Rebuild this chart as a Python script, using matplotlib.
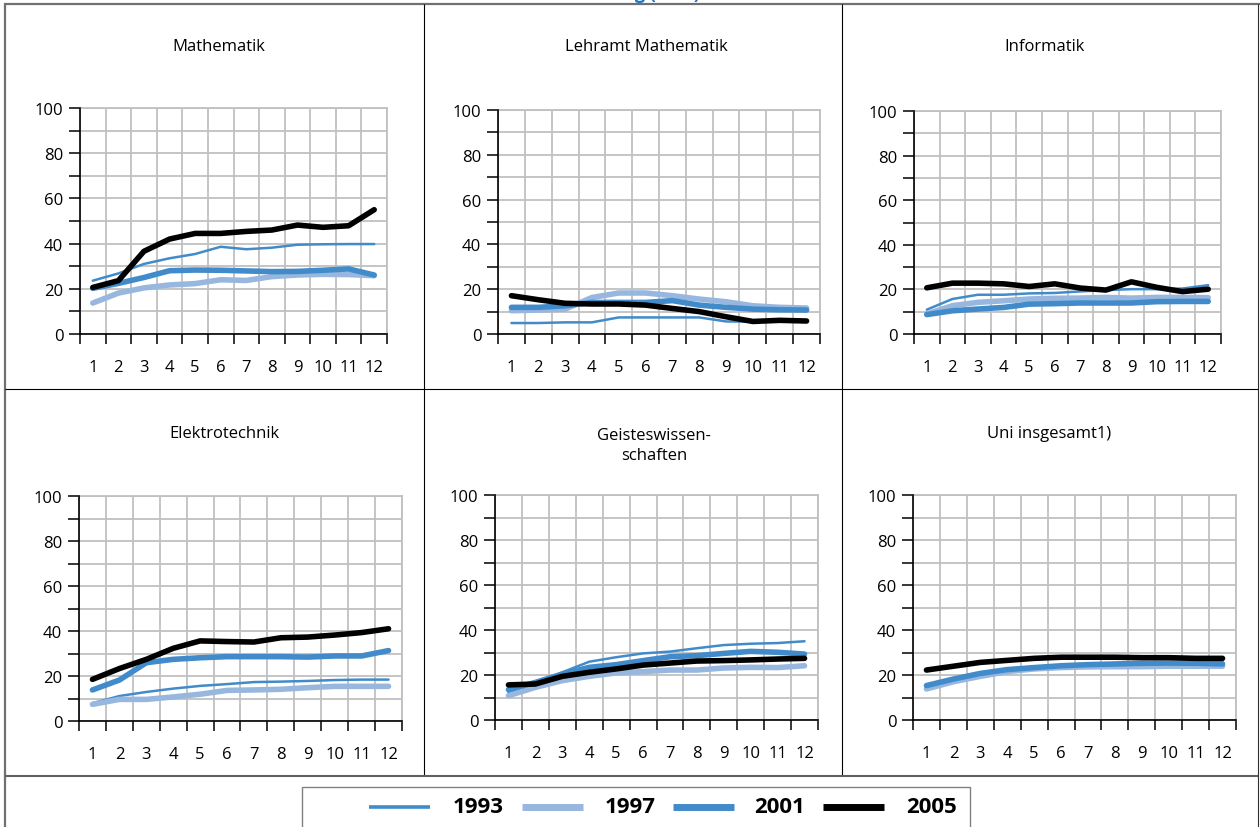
import numpy as np
import matplotlib
matplotlib.use("Agg")
import matplotlib.pyplot as plt
from matplotlib.lines import Line2D
from matplotlib.patches import Rectangle

plt.rcParams['font.family'] = ['Open Sans', 'DejaVu Sans']

# semesters on the x axis
semesters = np.arange(1, 13)
years = ['1993', '1997', '2001', '2005']

titles = ['Mathematik', 'Lehramt Mathematik', 'Informatik',
          'Elektrotechnik', 'Geisteswissen-\nschaften', 'Uni insgesamt1)']

# values per panel, one list per year (1993, 1997, 2001, 2005)
mathe_1993 = [23.6, 26.8, 31.0, 33.5, 35.4, 38.6, 37.5, 38.2, 39.5, 39.7, 39.8, 39.8]
mathe_1997 = [13.7, 18.1, 20.4, 21.7, 22.3, 24.0, 23.7, 25.4, 26.1, 26.4, 26.3, 25.8]
mathe_2001 = [20.2, 22.4, 25.0, 28.0, 28.3, 28.2, 27.9, 27.6, 27.7, 28.2, 28.8, 26.1]
mathe_2005 = [20.6, 23.6, 36.6, 42.0, 44.5, 44.5, 45.4, 46.0, 48.2, 47.2, 47.9, 55.0]

lehramt_1993 = [4.9, 4.9, 5.2, 5.2, 7.4, 7.4, 7.4, 7.4, 5.6, 5.5, 5.8, 6.0]
lehramt_1997 = [10.4, 10.7, 11.1, 16.3, 18.3, 18.3, 17.1, 15.6, 14.4, 12.6, 11.9, 11.6]
lehramt_2001 = [11.9, 11.9, 12.6, 14.1, 14.1, 14.1, 14.9, 12.9, 11.9, 11.1, 10.8, 10.7]
lehramt_2005 = [17.1, 15.3, 13.7, 13.4, 13.4, 12.9, 11.4, 10.0, 7.7, 5.6, 6.1, 5.8]

info_1993 = [10.9, 15.7, 17.6, 17.6, 18.2, 18.4, 19.1, 19.7, 20.1, 20.1, 20.4, 21.9]
info_1997 = [9.0, 12.7, 14.2, 14.9, 15.7, 16.0, 16.1, 16.4, 16.1, 16.4, 16.4, 16.3]
info_2001 = [8.7, 10.4, 11.2, 11.9, 13.4, 13.6, 13.9, 13.9, 13.9, 14.5, 14.6, 14.6]
info_2005 = [20.7, 22.8, 22.8, 22.5, 21.3, 22.5, 20.6, 19.7, 23.4, 20.9, 19.0, 20.1]

etech_1993 = [7.9, 11.1, 12.9, 14.4, 15.6, 16.4, 17.3, 17.5, 17.8, 18.2, 18.4, 18.4]
etech_1997 = [7.4, 9.6, 9.6, 10.7, 11.9, 13.6, 13.8, 14.1, 14.8, 15.4, 15.4, 15.4]
etech_2001 = [13.8, 18.2, 25.9, 27.4, 28.1, 28.6, 28.6, 28.6, 28.4, 28.9, 28.9, 31.3]
etech_2005 = [18.5, 23.3, 27.4, 32.3, 35.6, 35.3, 35.1, 37.0, 37.3, 38.2, 39.3, 41.0]

geist_1993 = [12.3, 16.4, 21.2, 25.9, 27.9, 29.6, 30.4, 31.9, 33.3, 33.9, 34.2, 35.0]
geist_1997 = [10.8, 14.5, 17.5, 19.4, 20.9, 21.5, 22.2, 22.2, 23.1, 23.4, 23.3, 24.1]
geist_2001 = [13.5, 16.7, 20.4, 23.4, 24.6, 26.4, 28.1, 28.6, 29.6, 30.5, 30.1, 29.3]
geist_2005 = [15.6, 16.0, 19.4, 21.2, 22.7, 24.4, 25.3, 26.2, 26.4, 26.7, 27.1, 27.4]

uni_1993 = [15.6, 18.5, 20.7, 22.5, 23.4, 24.1, 24.7, 25.2, 25.5, 25.6, 25.8, 25.8]
uni_1997 = [13.8, 17.0, 19.4, 21.5, 22.7, 23.3, 23.6, 23.7, 23.7, 23.9, 23.9, 23.9]
uni_2001 = [15.3, 18.2, 20.7, 22.4, 23.3, 24.1, 24.6, 24.9, 25.2, 25.3, 25.2, 24.9]
uni_2005 = [22.2, 23.9, 25.6, 26.5, 27.4, 27.9, 27.9, 27.9, 27.7, 27.7, 27.4, 27.4]

panels = [
    [mathe_1993, mathe_1997, mathe_2001, mathe_2005],
    [lehramt_1993, lehramt_1997, lehramt_2001, lehramt_2005],
    [info_1993, info_1997, info_2001, info_2005],
    [etech_1993, etech_1997, etech_2001, etech_2005],
    [geist_1993, geist_1997, geist_2001, geist_2005],
    [uni_1993, uni_1997, uni_2001, uni_2005],
]

colors = ['#428bca', '#98b7df', '#428bca', '#000000']
widths = [1.8, 4.0, 4.0, 4.0]
draw_order = [1, 2, 0, 3]

W, H = 1260, 828
fig = plt.figure(figsize=(W / 100, H / 100), dpi=100)


def fx(x):
    return x / W


def fy(y):
    return 1 - y / H


def fig_line(x0, y0, x1, y1, color, lw):
    fig.add_artist(Line2D([fx(x0), fx(x1)], [fy(y0), fy(y1)], color=color, lw=lw,
                          transform=fig.transFigure, solid_capstyle='butt'))


# axes boxes in pixels: left, right, top, bottom
boxes = [(80, 387, 109, 335), (498, 820, 111, 335), (914, 1221, 112, 335),
         (79, 402, 497, 722), (495, 818, 496, 721), (913, 1236, 496, 721)]
title_pos = [(219, 47), (646, 47), (1045, 47), (224, 434), (654, 446), (1049, 434)]

grid_c = '#c0c0c0'
for i, (l, r, t, b) in enumerate(boxes):
    ax = fig.add_axes([fx(l), fy(b), fx(r - l), (b - t) / H])
    for k in draw_order:
        ax.plot(semesters, panels[i][k], color=colors[k], lw=widths[k],
                solid_capstyle='round', solid_joinstyle='round', zorder=3 + k)
    ax.set_xlim(0.5, 12.5)
    ax.set_ylim(0, 100)
    ax.set_xticks(semesters)
    ax.set_xticks(np.arange(0.5, 13, 1), minor=True)
    ax.set_yticks(np.arange(0, 101, 20))
    ax.set_yticks(np.arange(10, 100, 20), minor=True)
    ax.tick_params(axis='x', which='major', length=0, pad=18, labelsize=12)
    ax.tick_params(axis='x', which='minor', length=7, width=1.1)
    ax.tick_params(axis='y', which='both', length=8, width=1.1, pad=4, labelsize=12)
    ax.grid(True, which='minor', axis='x', color=grid_c, lw=1.3)
    ax.grid(True, which='both', axis='y', color=grid_c, lw=1.3)
    ax.set_axisbelow(True)
    for s in ['top', 'right']:
        ax.spines[s].set_color(grid_c)
        ax.spines[s].set_linewidth(1.3)
    for s in ['left', 'bottom']:
        ax.spines[s].set_linewidth(1.2)
        ax.spines[s].set_zorder(10)
    tx, ty = title_pos[i]
    fig.text(fx(tx), fy(ty), titles[i], ha='center', va='center', fontsize=12,
             linespacing=1.35)

# table frame
fig_line(5, 4, 5, 830, '#707070', 1.6)
fig_line(4, 5, 1260, 5, '#707070', 1.6)
fig_line(1258, 5, 1258, 830, '#303030', 0.8)
fig_line(5, 390, 1258, 390, '#000000', 0.8)
fig_line(424, 5, 424, 777, '#000000', 0.8)
fig_line(842, 5, 842, 777, '#000000', 0.8)
fig_line(5, 777, 1258, 777, '#606060', 1.5)

# heading, cut off at the top edge like in the source page
fig.text(fx(700), fy(-1), 'Studienverlauf nach Fachrichtung (in %)', ha='right',
         va='baseline', color='#1a75c9', fontsize=13, fontweight='bold')

# legend
fig.add_artist(Rectangle((fx(302), fy(840)), fx(668), 52 / H, fill=False,
                         edgecolor='#808080', lw=1, transform=fig.transFigure))
leg_line_x = [369, 522, 673, 823]
leg_text_x = [453, 605, 754, 906]
leg_widths = [2.6, 5.0, 5.0, 5.0]
for k in range(4):
    fig_line(leg_line_x[k], 808, leg_line_x[k] + 61, 808, colors[k], leg_widths[k])
    fig.text(fx(leg_text_x[k]), fy(808), years[k], ha='left', va='center',
             fontsize=16, fontweight='bold')

fig.savefig('out.png', dpi=100)
